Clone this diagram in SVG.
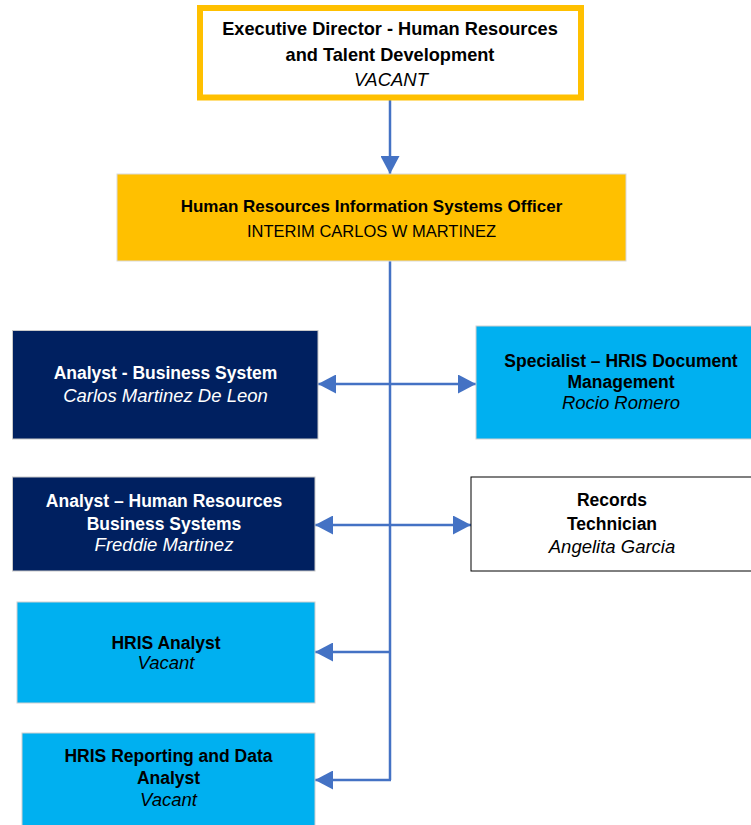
<svg xmlns="http://www.w3.org/2000/svg" width="751" height="825" viewBox="0 0 751 825">
<style>
text{font-family:"Liberation Sans",Arial,sans-serif;text-anchor:middle}
.b{font-weight:bold;font-size:17.5px}
.top{font-size:18.2px}
.hr{font-size:17px}
.i{font-style:italic;font-size:18.5px}
.r{font-size:16.5px}
.w{fill:#ffffff}
.k{fill:#000000}
.navy{fill:#002060;stroke:#c9c9c9;stroke-width:1}
.sky{fill:#00B0F0;stroke:#d0d0d0;stroke-width:1}
.conn{fill:none;stroke:#4472C4;stroke-width:2.5}
</style>
<defs>
<marker id="ah" markerUnits="userSpaceOnUse" markerWidth="18" markerHeight="19" refX="18" refY="9.5" orient="auto">
<path d="M0,0 L18,9.5 L0,19 z" fill="#4472C4"/>
</marker>
</defs>
<g id="connectors">
<line class="conn" x1="390" y1="100" x2="390" y2="174" marker-end="url(#ah)"/>
<path class="conn" d="M390,261 V780"/>
<line class="conn" x1="390" y1="384" x2="318" y2="384" marker-end="url(#ah)"/>
<line class="conn" x1="390" y1="384" x2="476" y2="384" marker-end="url(#ah)"/>
<line class="conn" x1="390" y1="525" x2="315" y2="525" marker-end="url(#ah)"/>
<line class="conn" x1="390" y1="525" x2="471" y2="525" marker-end="url(#ah)"/>
<line class="conn" x1="391" y1="652" x2="315" y2="652" marker-end="url(#ah)"/>
<line class="conn" x1="391" y1="780" x2="315" y2="780" marker-end="url(#ah)"/>
</g>
<g id="exec-director">
<rect x="200" y="8" width="381" height="89.5" fill="#ffffff" stroke="#FFC000" stroke-width="6"/>
<text class="b top k" x="390" y="35">Executive Director - Human Resources</text>
<text class="b top k" x="390" y="60.5">and Talent Development</text>
<text class="i k" x="391" y="86">VACANT</text>
</g>
<g id="hris-officer">
<rect x="117" y="174" width="509" height="87" fill="#FFC000" stroke="#d9d9d9" stroke-width="1"/>
<text class="b hr k" x="371.5" y="212">Human Resources Information Systems Officer</text>
<text class="r k" x="371.5" y="237">INTERIM CARLOS W MARTINEZ</text>
</g>
<g id="analyst-business-system">
<rect class="navy" x="12.5" y="330.5" width="305.5" height="108.5"/>
<text class="b w" x="165.5" y="379">Analyst - Business System</text>
<text class="i w" x="165.5" y="402">Carlos Martinez De Leon</text>
</g>
<g id="specialist-hris-doc">
<rect class="sky" x="476" y="326" width="290" height="113"/>
<text class="b k" x="621" y="367">Specialist – HRIS Document</text>
<text class="b k" x="621" y="388">Management</text>
<text class="i k" x="621" y="409">Rocio Romero</text>
</g>
<g id="analyst-hr-business-systems">
<rect class="navy" x="12.5" y="477" width="302.5" height="94"/>
<text class="b w" x="164" y="507">Analyst – Human Resources</text>
<text class="b w" x="164" y="530">Business Systems</text>
<text class="i w" x="164" y="551">Freddie Martinez</text>
</g>
<g id="records-technician">
<rect x="471" y="477" width="285" height="94" fill="#ffffff" stroke="#000000" stroke-width="1"/>
<text class="b k" x="612" y="506">Records</text>
<text class="b k" x="612" y="530">Technician</text>
<text class="i k" x="612" y="553">Angelita Garcia</text>
</g>
<g id="hris-analyst">
<rect class="sky" x="17" y="602" width="298" height="101"/>
<text class="b k" x="166" y="649">HRIS Analyst</text>
<text class="i k" x="166" y="669">Vacant</text>
</g>
<g id="hris-reporting">
<rect class="sky" x="22" y="733" width="293" height="100"/>
<text class="b k" x="168.5" y="762">HRIS Reporting and Data</text>
<text class="b k" x="168.5" y="784">Analyst</text>
<text class="i k" x="168.5" y="806">Vacant</text>
</g>
</svg>
